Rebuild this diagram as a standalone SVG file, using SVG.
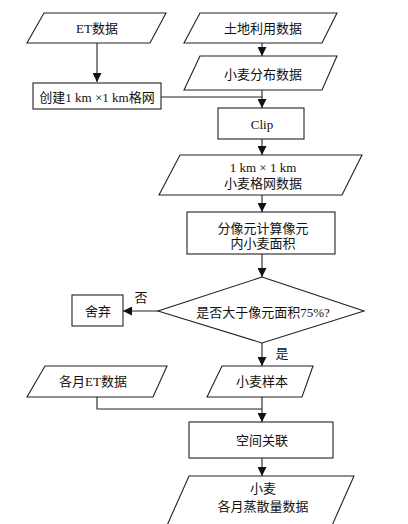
<svg xmlns="http://www.w3.org/2000/svg" width="408" height="524" viewBox="0 0 408 524">
<style>
.s{fill:#fff;stroke:#222;stroke-width:1.1}
.c{fill:none;stroke:#222;stroke-width:1.1}
text{font-family:"Liberation Serif","Noto Sans CJK SC",serif;font-size:13px;fill:#111;text-anchor:middle;dominant-baseline:central}
</style>
<defs>
<marker id="ah" markerUnits="userSpaceOnUse" markerWidth="9" markerHeight="9" refX="9" refY="4.5" orient="auto">
<path d="M0,0 L9,4.5 L0,9 z" fill="#111"/>
</marker>
</defs>
<rect width="408" height="524" fill="#fff"/>
<g id="connectors">
<line class="c" x1="97" y1="43" x2="97" y2="82" marker-end="url(#ah)"/>
<line class="c" x1="262" y1="43" x2="262" y2="56" marker-end="url(#ah)"/>
<polyline class="c" points="161,97 262,97"/>
<line class="c" x1="262" y1="90" x2="262" y2="108" marker-end="url(#ah)"/>
<line class="c" x1="262" y1="139" x2="262" y2="155" marker-end="url(#ah)"/>
<line class="c" x1="262" y1="195" x2="262" y2="212" marker-end="url(#ah)"/>
<line class="c" x1="262" y1="254" x2="262" y2="277" marker-end="url(#ah)"/>
<line class="c" x1="158" y1="311" x2="123" y2="311" marker-end="url(#ah)"/>
<line class="c" x1="262" y1="343" x2="262" y2="366" marker-end="url(#ah)"/>
<polyline class="c" points="97,397 97,409 262,409"/>
<line class="c" x1="262" y1="397" x2="262" y2="422" marker-end="url(#ah)"/>
<line class="c" x1="262" y1="458" x2="262" y2="476" marker-end="url(#ah)"/>
<text x="141" y="297">否</text>
<text x="282" y="353">是</text>
</g>
<g id="et">
<polygon class="s" points="44,13 166,13 150,43 27,43"/>
<text x="97" y="28">ET数据</text>
</g>
<g id="landuse">
<polygon class="s" points="200,13 337,13 322,43 184,43"/>
<text x="263" y="28">土地利用数据</text>
</g>
<g id="wheat-dist">
<polygon class="s" points="200,56 337,56 322,90 184,90"/>
<text x="263" y="74">小麦分布数据</text>
</g>
<g id="grid">
<rect class="s" x="33" y="83" width="128" height="26"/>
<text x="97" y="97">创建1 km ×1 km格网</text>
</g>
<g id="clip">
<rect class="s" x="218" y="108" width="86" height="31"/>
<text x="262" y="124">Clip</text>
</g>
<g id="wheat-grid">
<polygon class="s" points="180,155 362,155 342,195 159,195"/>
<text x="263" y="167">1 km × 1 km</text>
<text x="263" y="183">小麦格网数据</text>
</g>
<g id="area">
<rect class="s" x="187" y="212" width="148" height="42"/>
<text x="263" y="228">分像元计算像元</text>
<text x="263" y="243">内小麦面积</text>
</g>
<g id="decision">
<polygon class="s" points="262,277 364,311 262,343 158,311"/>
<text x="263" y="312">是否大于像元面积75%?</text>
</g>
<g id="discard">
<rect class="s" x="72" y="295" width="51" height="31"/>
<text x="98" y="311">舍弃</text>
</g>
<g id="monthly-et">
<polygon class="s" points="45,366 167,366 153,397 27,397"/>
<text x="93" y="381">各月ET数据</text>
</g>
<g id="sample">
<polygon class="s" points="222,366 313,366 302,397 207,397"/>
<text x="262" y="381">小麦样本</text>
</g>
<g id="join">
<rect class="s" x="189" y="422" width="144" height="36"/>
<text x="262" y="440">空间关联</text>
</g>
<g id="result">
<polygon class="s" points="189,476 354,476 330,530 165,530"/>
<text x="263" y="488">小麦</text>
<text x="263" y="506">各月蒸散量数据</text>
</g>
</svg>
